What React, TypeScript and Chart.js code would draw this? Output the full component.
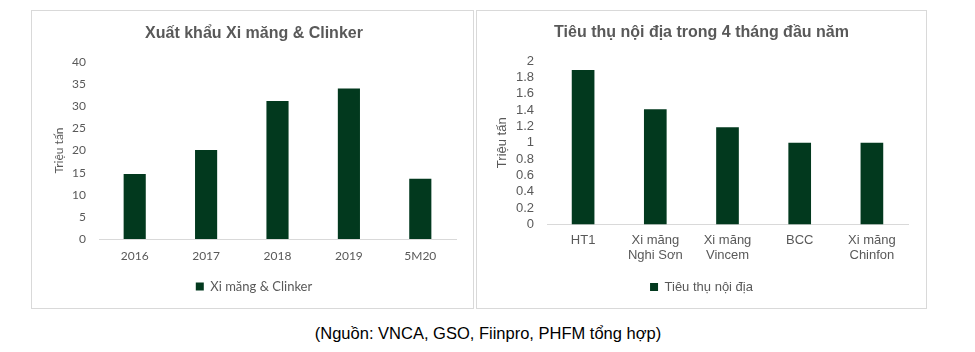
import React, { useEffect, useRef } from "react";
import { Chart, registerables } from "chart.js";

Chart.register(...registerables);

// Left chart data
const exportCategories = ["2016", "2017", "2018", "2019", "5M20"];
const exportValues = [14.7, 20.1, 31.2, 34.0, 13.6];
const exportSeriesName = "Xi măng & Clinker";
const exportTitle = "Xuất khẩu Xi măng & Clinker";

// Right chart data
const domesticCategories: (string | string[])[] = [
  "HT1",
  ["Xi măng", "Nghi Sơn"],
  ["Xi măng", "Vincem"],
  "BCC",
  ["Xi măng", "Chinfon"],
];
const domesticValues = [1.89, 1.41, 1.19, 1.0, 1.0];
const domesticSeriesName = "Tiêu thụ nội địa";
const domesticTitle = "Tiêu thụ nội địa trong 4 tháng đầu năm";

const yAxisTitle = "Triệu tấn";
const sourceNote = "(Nguồn: VNCA, GSO, Fiinpro, PHFM tổng hợp)";

const BAR = "#02391E";
const TEXT = "#595959";
const AXIS = "#D9D9D9";

type Cfg = {
  labels: (string | string[])[];
  values: number[];
  series: string;
  title: string;
  max: number;
  step: number;
  tickFont: any;
  legendFont: any;
  titleTop: number;
  titleBottom: number;
  padLeft: number;
  padRight: number;
  padBottom: number;
  yWidth: number;
  xHeight: number;
  yPad: number;
  xPad: number;
  barPct: number;
  fmt: (v: number) => string;
};

function BarChart({ cfg, width, height }: { cfg: Cfg; width: number; height: number }) {
  const ref = useRef<HTMLCanvasElement>(null);
  useEffect(() => {
    if (!ref.current) return;
    const chart = new Chart(ref.current, {
      type: "bar",
      data: {
        labels: cfg.labels,
        datasets: [
          {
            label: cfg.series,
            data: cfg.values,
            backgroundColor: BAR,
            borderWidth: 0,
            barPercentage: cfg.barPct,
            categoryPercentage: 1,
          },
        ],
      },
      options: {
        responsive: false,
        animation: false,
        devicePixelRatio: 1,
        layout: {
          padding: { left: cfg.padLeft, right: cfg.padRight, top: 0, bottom: cfg.padBottom },
        },
        plugins: {
          title: {
            display: true,
            text: cfg.title,
            color: TEXT,
            font: { family: "'Liberation Sans', Arial, sans-serif", size: 16, weight: "bold", lineHeight: 1.2 },
            padding: { top: cfg.titleTop, bottom: cfg.titleBottom },
          },
          legend: {
            display: true,
            position: "bottom",
            labels: {
              color: TEXT,
              font: cfg.legendFont,
              boxWidth: 8,
              boxHeight: 8,
              padding: 10,
            },
          },
          tooltip: { enabled: false },
        },
        scales: {
          x: {
            grid: { display: false, drawTicks: false },
            border: { display: true, color: AXIS, width: 1 },
            ticks: { color: TEXT, font: cfg.tickFont, padding: cfg.xPad, maxRotation: 0, autoSkip: false },
            afterFit: (s: any) => {
              s.height = cfg.xHeight;
            },
          },
          y: {
            min: 0,
            max: cfg.max,
            grid: { display: false, drawTicks: false },
            border: { display: false },
            ticks: {
              stepSize: cfg.step,
              autoSkip: false,
              color: TEXT,
              font: cfg.tickFont,
              padding: cfg.yPad,
              callback: (v: any) => cfg.fmt(Number(v)),
            },
            title: {
              display: true,
              text: yAxisTitle,
              color: TEXT,
              font: cfg.tickFont,
              padding: 0,
            },
            afterFit: (s: any) => {
              s.width = cfg.yWidth;
            },
          },
        },
      } as any,
    });
    return () => chart.destroy();
  }, [cfg]);
  return <canvas ref={ref} width={width} height={height} style={{ display: "block" }} />;
}

const lato = { family: "Lato, 'Open Sans', sans-serif", size: 12, lineHeight: 1.2 };
const latoLegend = { family: "Lato, 'Open Sans', sans-serif", size: 13, lineHeight: 1.2 };
const arial = { family: "'Liberation Sans', Arial, sans-serif", size: 13, lineHeight: 1.2 };

const leftCfg: Cfg = {
  labels: exportCategories,
  values: exportValues,
  series: exportSeriesName,
  title: exportTitle,
  max: 40,
  step: 5,
  tickFont: lato,
  legendFont: latoLegend,
  titleTop: 12.5,
  titleBottom: 19.3,
  padLeft: 20,
  padRight: 17,
  padBottom: 5,
  yWidth: 47,
  xHeight: 31,
  yPad: 13,
  xPad: 10,
  barPct: 0.31,
  fmt: (v) => String(Math.round(v)),
};

const rightCfg: Cfg = {
  labels: domesticCategories,
  values: domesticValues,
  series: domesticSeriesName,
  title: domesticTitle,
  max: 2,
  step: 0.2,
  tickFont: arial,
  legendFont: arial,
  titleTop: 12,
  titleBottom: 18.8,
  padLeft: 18,
  padRight: 18,
  padBottom: 4.5,
  yWidth: 52,
  xHeight: 46,
  yPad: 13,
  xPad: 7.7,
  barPct: 0.314,
  fmt: (v) => String(Math.round(v * 10) / 10),
};

export default function App() {
  return (
    <div>
      <div
        style={{
          position: "absolute",
          left: 31,
          top: 10,
          width: 441,
          height: 297,
          border: `1px solid ${AXIS}`,
          background: "#fff",
        }}
      >
        <BarChart cfg={leftCfg} width={441} height={297} />
      </div>
      <div
        style={{
          position: "absolute",
          left: 476,
          top: 10,
          width: 449,
          height: 297,
          border: `1px solid ${AXIS}`,
          background: "#fff",
        }}
      >
        <BarChart cfg={rightCfg} width={449} height={297} />
      </div>
      <div
        style={{
          position: "absolute",
          left: 0,
          top: 323,
          width: 976,
          textAlign: "center",
          fontFamily: "'Liberation Sans', Arial, sans-serif",
          fontSize: 16.5,
          lineHeight: "20px",
          color: "#000",
        }}
      >
        {sourceNote}
      </div>
    </div>
  );
}
